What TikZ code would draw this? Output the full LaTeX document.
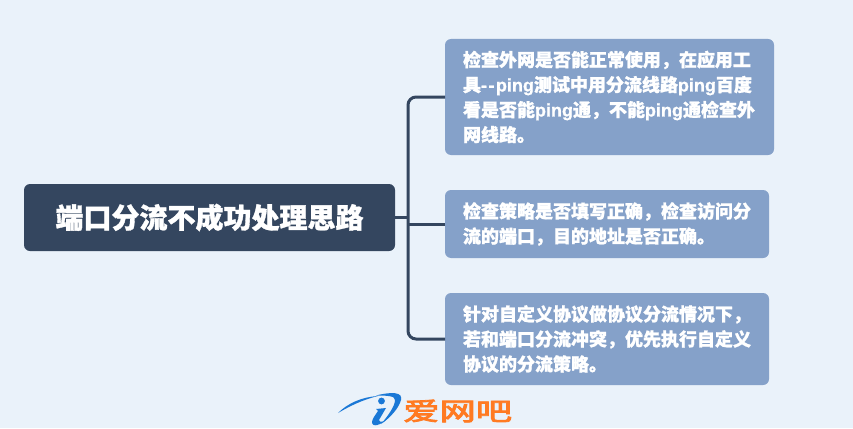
\documentclass[tikz,border=0pt]{standalone}
\usepackage{fontspec}
\setmainfont{Noto Sans CJK SC}[BoldFeatures={FakeBold=1.2}]
\newfontfamily\lat{Liberation Sans}[FakeBold=1.0]
\newfontfamily\logofont{Noto Sans CJK SC}[FakeBold=3]
\definecolor{bgc}{HTML}{EAF2FA}
\definecolor{rootc}{HTML}{34465F}
\definecolor{leafc}{HTML}{85A1C9}
\definecolor{logoblue}{HTML}{1A78D6}
\definecolor{logoorange}{HTML}{FF7A22}
\newcommand{\pg}{{\lat ping}}
\tikzset{
  rootbox/.style={anchor=north west,fill=rootc,text=white,rounded corners=6pt,inner xsep=0pt,inner ysep=0pt,outer sep=0pt,minimum width=371pt,minimum height=67pt,align=center,font=\bfseries\fontsize{28}{30}\selectfont},
  leafbox/.style={anchor=north west,fill=leafc,text=white,rounded corners=6pt,inner xsep=18pt,inner ysep=0pt,outer sep=0pt,align=left,font=\bfseries\fontsize{18}{25}\selectfont},
  link/.style={draw=rootc,line width=3pt,rounded corners=8pt},
  stub/.style={draw=rootc,line width=3pt},
  logotext/.style={anchor=west,inner sep=0pt,text=logoorange,font=\logofont\fontsize{25}{25}\selectfont,xscale=1.45}
}
\begin{document}
\begin{tikzpicture}[x=1pt,y=-1pt]
\useasboundingbox (0,0) rectangle (853,428);
\fill[bgc] (0,0) rectangle (853,428);
\node[rootbox] (root) at (24,184) {端口分流不成功处理思路};
\node[leafbox,text width=293pt,minimum height=116pt] (a) at (445,39) {检查外网是否能正常使用，在应用工\\具{\lat -\kern1.5pt-\kern1.5pt}\pg 测试中用分流线路\pg 百度\\看是否能\pg 通，不能\pg 通检查外\\网线路。};
\node[leafbox,text width=288pt,minimum height=68pt] (b) at (445,190) {检查策略是否填写正确，检查访问分\\流的端口，目的地址是否正确。};
\node[leafbox,text width=288pt,minimum height=92pt] (c) at (445,293) {针对自定义协议做协议分流情况下，\\若和端口分流冲突，优先执行自定义\\协议的分流策略。};
\coordinate (tr) at (408,217);
\draw[link] (a.west) -- (a.west -| tr) -- (c.west -| tr) -- (c.west);
\draw[stub] (root.east) -- (root.east -| tr);
\draw[stub] (b.west) -- (b.west -| tr);
% logo
\fill[logoblue] (338,413) .. controls (348,403) and (362,397) .. (378,396) .. controls (362,400) and (350,406) .. (338,413) -- cycle;
\fill[logoblue] (376,395.5) .. controls (392,391.5) and (403,392) .. (401,400) .. controls (399,408) and (390,418) .. (381,424) .. controls (388,416) and (395,406) .. (395,400) .. controls (395,396) and (388,395.5) .. (376,395.5) -- cycle;
\fill[logoblue] (381.5,401) circle[radius=3.4];
\fill[logoblue] (376,409) -- (386,408) -- (379,420) .. controls (380,423) and (383,422) .. (387,419) .. controls (381,425) and (372,428) .. (372,422) .. controls (372,419) and (376,414) .. (378,411) -- cycle;
\node[logotext] (l) at (403,411) {爱网吧};
\end{tikzpicture}
\end{document}
